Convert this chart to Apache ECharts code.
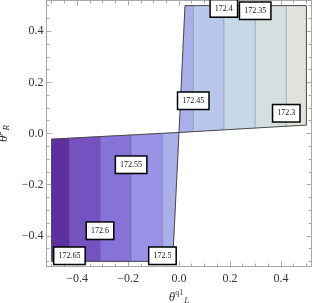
<!DOCTYPE html>
<html><head><meta charset="utf-8">
<script src="https://cdn.jsdelivr.net/npm/echarts@6/dist/echarts.min.js"></script>
<style>html,body{margin:0;padding:0;background:#fff}#c{width:312px;height:303px}</style>
</head><body><div id="c"></div>
<script>
// contour levels and where each contour line crosses the x axis (contours are near-vertical)
const levels = [172.65, 172.6, 172.55, 172.5, 172.45, 172.4, 172.35, 172.3];
const contourX = [-0.43, -0.31, -0.188, -0.065, 0.056, 0.176, 0.299, 0.421];
// y position of each contour label along its contour
const labelY = [-0.478, -0.38, -0.122, -0.478, 0.128, 0.489, 0.48, 0.079];
// band fill colours, from highest value (left) to lowest (right)
const bandColors = ['#5f2f9f', '#7452bf', '#8672d8', '#9a92e6', '#a9afe9', '#b8c7ea', '#c7d9e7', '#d6dfdf', '#e3e3db'];
// domain where the function is plotted (two quadrilaterals)
const regionLeft = [[-0.5, -0.5], [-0.025, -0.5], [0, 0.004], [-0.5, -0.022]];
const regionRight = [[0, 0.004], [0.5, 0.033], [0.5, 0.5], [0.0235, 0.5]];
// axis ticks
const majorTicks = [-0.4, -0.2, 0, 0.2, 0.4];
const minorTicks = [-0.5, -0.45, -0.35, -0.3, -0.25, -0.15, -0.1, -0.05, 0.05, 0.1, 0.15, 0.25, 0.3, 0.35, 0.45, 0.5];

function clipPoly(p, inside, inter) {
  const out = [];
  for (let i = 0; i < p.length; i++) {
    const a = p[i], b = p[(i + 1) % p.length];
    const ia = inside(a), ib = inside(b);
    if (ia) out.push(a);
    if (ia !== ib) out.push(inter(a, b));
  }
  return out;
}
const interAt = x => (a, b) => { const t = (x - a[0]) / (b[0] - a[0]); return [x, a[1] + t * (b[1] - a[1])]; };
function clipX(poly, lo, hi) {
  let r = clipPoly(poly, q => q[0] >= lo, interAt(lo));
  if (r.length) r = clipPoly(r, q => q[0] <= hi, interAt(hi));
  return r;
}
function yRange(poly, c) {
  const ys = [];
  for (let i = 0; i < poly.length; i++) {
    const a = poly[i], b = poly[(i + 1) % poly.length];
    if (a[0] === b[0]) continue;
    if ((a[0] - c) * (b[0] - c) <= 0) ys.push(interAt(c)(a, b)[1]);
  }
  return ys.length ? [Math.min(...ys), Math.max(...ys)] : null;
}
const regions = [regionLeft, regionRight];
const edges = [-1, ...contourX, 1];
const bandPolys = [];
for (let i = 0; i < bandColors.length; i++) {
  regions.forEach(rg => {
    const pts = clipX(rg, edges[i], edges[i + 1]);
    if (pts.length >= 3) bandPolys.push({ pts, color: bandColors[i] });
  });
}
const contourSegs = [];
contourX.forEach(c => {
  regions.forEach(rg => {
    const r = yRange(rg, c);
    if (r && r[1] > r[0]) contourSegs.push([[c, r[0]], [c, r[1]]]);
  });
});

const serif = 'Liberation Serif';
const axisLineStyle = { color: '#a8a8a8', width: 1 };
function mkX(pos, ticks, len, withLabel) {
  return {
    type: 'value', position: pos, min: -0.52, max: 0.52,
    axisLine: { show: true, onZero: false, lineStyle: axisLineStyle },
    axisTick: { show: true, inside: true, length: len, customValues: ticks, lineStyle: axisLineStyle },
    axisLabel: withLabel ? { show: true, customValues: ticks, margin: 6, fontFamily: serif, fontSize: 12, color: '#333',
      formatter: v => (v < 0 ? '\u2212' : '') + Math.abs(v).toFixed(1) } : { show: false },
    splitLine: { show: false }
  };
}
function mkY(pos, ticks, len, withLabel) {
  const o = mkX(pos, ticks, len, withLabel);
  if (withLabel) o.axisLabel.margin = 3;
  return o;
}
const xAxes = [mkX('bottom', majorTicks, 5, true), mkX('bottom', minorTicks, 3, false), mkX('top', majorTicks, 5, false), mkX('top', minorTicks, 3, false)];
const yAxes = [mkY('left', majorTicks, 5, true), mkY('left', minorTicks, 3, false), mkY('right', majorTicks, 5, false), mkY('right', minorTicks, 3, false)];
Object.assign(xAxes[0], {
  name: '{t|θ}{sup|q1}{sub|L}', nameLocation: 'middle', nameGap: 20,
  nameTextStyle: { rich: {
    t: { fontFamily: serif, fontStyle: 'italic', fontSize: 13, color: '#333' },
    sup: { fontFamily: serif, fontSize: 8, color: '#333', padding: [0, 0, 8, 0] },
    sub: { fontFamily: serif, fontStyle: 'italic', fontSize: 9, color: '#333', padding: [6, 0, 0, 1] }
  } }
});
Object.assign(yAxes[0], {
  name: '{t|θ}{sup|μ}{sub|R}', nameLocation: 'middle', nameGap: 31, nameRotate: 90,
  nameTextStyle: { rich: {
    t: { fontFamily: serif, fontStyle: 'italic', fontSize: 13, color: '#333' },
    sup: { fontFamily: serif, fontStyle: 'italic', fontSize: 8, color: '#333', padding: [0, 0, 8, 0] },
    sub: { fontFamily: serif, fontStyle: 'italic', fontSize: 9, color: '#333', padding: [6, 0, 0, 1] }
  } }
});

const chart = echarts.init(document.getElementById('c'), null, { renderer: 'canvas' });
chart.setOption({
  animation: false,
  backgroundColor: '#fff',
  grid: { left: 46.5, top: 0.5, width: 265, height: 266, containLabel: false, outerBoundsMode: 'none' },
  xAxis: xAxes,
  yAxis: yAxes,
  series: [
    {
      type: 'custom', xAxisIndex: 0, yAxisIndex: 0, silent: true,
      data: bandPolys.map(b => b.pts[0]),
      renderItem: (params, api) => {
        const b = bandPolys[params.dataIndex];
        return { type: 'polygon', shape: { points: b.pts.map(p => api.coord(p)) }, style: { fill: b.color, stroke: b.color, lineWidth: 0.5 } };
      }
    },
    {
      type: 'custom', xAxisIndex: 0, yAxisIndex: 0, silent: true,
      data: contourSegs.map(s => s[0]),
      renderItem: (params, api) => {
        const s = contourSegs[params.dataIndex];
        const a = api.coord(s[0]), b = api.coord(s[1]);
        return { type: 'line', shape: { x1: a[0], y1: a[1], x2: b[0], y2: b[1] }, style: { stroke: 'rgba(70,70,120,0.35)', lineWidth: 1 } };
      }
    },
    {
      type: 'custom', xAxisIndex: 0, yAxisIndex: 0, silent: true,
      data: regions.map(r => r[0]),
      renderItem: (params, api) => {
        const r = regions[params.dataIndex];
        return { type: 'polygon', shape: { points: r.map(p => api.coord(p)) }, style: { fill: 'none', stroke: '#4a4a4a', lineWidth: 1 } };
      }
    },
    {
      type: 'scatter', xAxisIndex: 0, yAxisIndex: 0, silent: true,
      symbolSize: 1, itemStyle: { color: 'rgba(0,0,0,0)', opacity: 1 },
      data: levels.map((v, i) => ({ value: [contourX[i], labelY[i]] })),
      label: {
        show: true, position: 'inside',
        formatter: p => String(levels[p.dataIndex]),
        fontFamily: serif, fontSize: 8, color: '#111',
        backgroundColor: '#fff', borderColor: '#000', borderWidth: 1.5,
        padding: [4, 4, 4, 4]
      }
    }
  ]
});
</script></body></html>
